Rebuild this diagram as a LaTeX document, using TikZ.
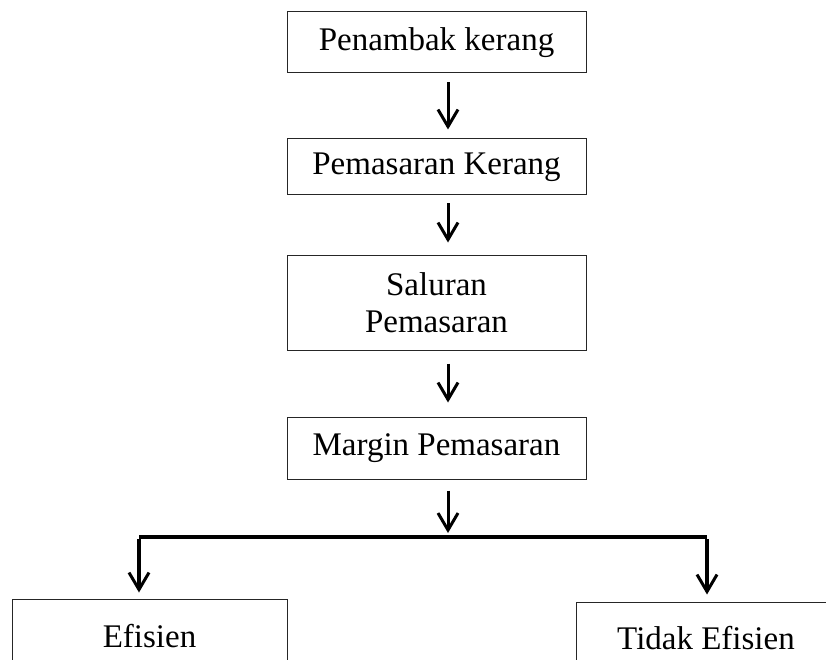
\documentclass[tikz,border=0pt]{standalone}
\usepackage{fontspec}
\setmainfont{Liberation Serif}
\usetikzlibrary{arrows.meta}
\begin{document}
\begin{tikzpicture}[x=1pt, y=-1pt, box node/.style={rectangle,draw=black!85,line width=1pt,minimum width=299pt,inner sep=0pt,align=center,font=\fontsize{33}{37}\selectfont}, arrow line/.style={line width=3pt,-{Straight Barb[length=17pt,width=20pt,line width=3pt]}}]
\useasboundingbox (0,0) rectangle (826,660);
\clip (0,0) rectangle (826,660);
\begin{scope}
\node[box node,minimum height=61pt] (b1) at (436.5,42.5) {Penambak kerang};
\node[box node,minimum height=56pt] (b2) at (436.5,167) {Pemasaran Kerang};
\node[box node,minimum height=95pt] (b3) at (436.5,302.5) {Saluran\\Pemasaran};
\node[box node,minimum height=62pt] (b4) at (436.5,448) {Margin Pemasaran};
\node[box node,minimum width=275pt,minimum height=74pt] (e1) at (149.5,636) {Efisien};
\node[box node,minimum width=260pt,minimum height=72pt] (e2) at (706,638) {Tidak Efisien};
\coordinate (jl) at (139,537);
\coordinate (jr) at (707,537);
\end{scope}
\begin{scope}
\draw[arrow line,shorten <=9pt,shorten >=9pt] ([xshift=11.5pt]b1.south) -- ([xshift=11.5pt]b2.north);
\draw[arrow line,shorten <=8pt,shorten >=12pt] ([xshift=11.5pt]b2.south) -- ([xshift=11.5pt]b3.north);
\draw[arrow line,shorten <=13pt,shorten >=14pt] ([xshift=11.5pt]b3.south) -- ([xshift=11.5pt]b4.north);
\draw[arrow line,shorten <=11pt] ([xshift=11.5pt]b4.south) -- ([xshift=11.5pt]b4.south |- 0,533);
\draw[line width=4pt] (jl) -- (jr);
\draw[arrow line,line width=4pt,shorten >=6pt] ([yshift=-2pt]jl) -- (jl |- e1.north);
\draw[arrow line,line width=4pt,shorten >=7pt] ([yshift=-2pt]jr) -- (jr |- e2.north);
\end{scope}
\end{tikzpicture}
\end{document}
